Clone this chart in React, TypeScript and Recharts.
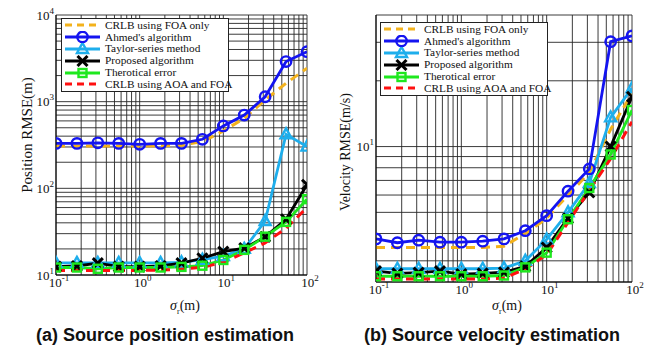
import React from 'react';
import { LineChart, Line, XAxis, YAxis, CartesianGrid, Legend } from 'recharts';

// sigma_r (m), 13 points, 4 per decade
const sigma = [0.1, 0.178, 0.316, 0.562, 1, 1.78, 3.16, 5.62, 10, 17.8, 31.6, 56.2, 100];

// (a) position RMSE (m)
const posCrlbFoa = [308, 308, 308, 308, 308, 310, 315, 346, 459, 643, 1047, 1630, 2430];
const posAhmed = [330, 330, 335, 330, 322, 330, 330, 368, 525, 700, 1140, 2900, 3770];
const posTaylor = [13.8, 13.8, 13.8, 13.8, 13.8, 13.8, 14, 15, 16.5, 20, 42, 420, 303];
const posProposed = [12.5, 12.7, 13.7, 12.5, 12.5, 12.7, 13.7, 15.6, 18.6, 20.4, 27.5, 44, 110];
const posTheory = [12.2, 12.2, 11.8, 12.2, 12.2, 12.2, 12.4, 12.8, 14.9, 19.5, 27.7, 41, 75];
const posCrlbAoa = [11.3, 11.3, 11.3, 11.3, 11.3, 11.4, 11.7, 12.3, 14, 18, 23.5, 34.6, 60];

// (b) velocity RMSE (m/s)
const velCrlbFoa = [3.45, 3.45, 3.45, 3.45, 3.45, 3.45, 3.5, 4.0, 4.7, 6.0, 7.6, 12, 17.5];
const velAhmed = [3.78, 3.63, 3.73, 3.65, 3.65, 3.69, 3.78, 4.12, 4.83, 6.25, 7.9, 30.2, 32.1];
const velTaylor = [2.76, 2.76, 2.76, 2.76, 2.76, 2.76, 2.78, 3.0, 3.76, 5.0, 6.8, 13.6, 18.5];
const velProposed = [2.69, 2.63, 2.65, 2.69, 2.61, 2.63, 2.66, 2.83, 3.45, 4.7, 6.16, 10, 16.9];
const velTheory = [2.55, 2.55, 2.55, 2.55, 2.55, 2.55, 2.57, 2.8, 3.27, 4.65, 6.46, 9.2, 14.7];
const velCrlbAoa = [2.48, 2.48, 2.48, 2.48, 2.48, 2.48, 2.5, 2.75, 3.2, 4.5, 6.3, 8.8, 13];

// grid ticks (log decades with minor lines)
const xTicks = [
  0.1, 0.2, 0.3, 0.4, 0.5, 0.6, 0.7, 0.8, 0.9,
  1, 2, 3, 4, 5, 6, 7, 8, 9,
  10, 20, 30, 40, 50, 60, 70, 80, 90, 100,
];
const posTicks = [
  10, 20, 30, 40, 50, 60, 70, 80, 90,
  100, 200, 300, 400, 500, 600, 700, 800, 900,
  1000, 2000, 3000, 4000, 5000, 6000, 7000, 8000, 9000, 10000,
];
const velTicks = [3, 4, 5, 6, 7, 8, 9, 10, 20, 30, 40];

const seriesNames = [
  'CRLB using FOA only',
  "Ahmed's algorithm",
  'Taylor-series method',
  'Proposed algorithm',
  'Therotical error',
  'CRLB using AOA and FOA',
];

const ORANGE = '#F3B21C';
const BLUE = '#1414F0';
const CYAN = '#1EAEEC';
const BLACK = '#000000';
const GREEN = '#1EE81E';
const RED = '#FF1010';
const SERIF = '"Liberation Serif", "Times New Roman", serif';

const build = (cols: number[][]) =>
  sigma.map((s, i) => ({
    s,
    crlbFoa: cols[0][i],
    ahmed: cols[1][i],
    taylor: cols[2][i],
    proposed: cols[3][i],
    theory: cols[4][i],
    crlbAoa: cols[5][i],
  }));

const posData = build([posCrlbFoa, posAhmed, posTaylor, posProposed, posTheory, posCrlbAoa]);
const velData = build([velCrlbFoa, velAhmed, velTaylor, velProposed, velTheory, velCrlbAoa]);

const isDecade = (v: number) => Math.abs(Math.log10(v) - Math.round(Math.log10(v))) < 1e-6;

// marker shapes
const Circle = ({ cx, cy, c }: any) => (
  <circle cx={cx} cy={cy} r={5.2} fill="none" stroke={c} strokeWidth={2.4} />
);
const Tri = ({ cx, cy, c }: any) => (
  <polygon
    points={`${cx},${cy - 6} ${cx - 5.5},${cy + 4} ${cx + 5.5},${cy + 4}`}
    fill="none"
    stroke={c}
    strokeWidth={2.4}
  />
);
const Cross = ({ cx, cy, c }: any) => (
  <g stroke={c} strokeWidth={3}>
    <line x1={cx - 5} y1={cy - 5} x2={cx + 5} y2={cy + 5} />
    <line x1={cx - 5} y1={cy + 5} x2={cx + 5} y2={cy - 5} />
  </g>
);
const Square = ({ cx, cy, c }: any) => (
  <rect x={cx - 4} y={cy - 4} width={8} height={8} fill="none" stroke={c} strokeWidth={2.4} />
);

const markerDot = (Shape: any, c: string) => (p: any) =>
  <Shape key={`d-${p.index}`} cx={p.cx} cy={p.cy} c={c} />;

const XTick = ({ x, y, payload }: any) => {
  const v = payload.value;
  if (!isDecade(v)) return <g />;
  const e = Math.round(Math.log10(v));
  return (
    <text x={x + 3} y={y + 12} textAnchor="middle" fontFamily={SERIF} fontSize={13} fill="#111">
      10<tspan dy={-6} fontSize={9}>{e}</tspan>
    </text>
  );
};

const YTick = ({ x, y, payload }: any) => {
  const v = payload.value;
  if (!isDecade(v)) return <g />;
  const e = Math.round(Math.log10(v));
  return (
    <text x={x - 2} y={y + 4.5} textAnchor="end" fontFamily={SERIF} fontSize={13} fill="#111">
      10<tspan dy={-6} fontSize={9}>{e}</tspan>
    </text>
  );
};

const legendItems = [
  { name: seriesNames[0], color: ORANGE, dash: '7 5', shape: null },
  { name: seriesNames[1], color: BLUE, dash: undefined, shape: Circle },
  { name: seriesNames[2], color: CYAN, dash: undefined, shape: Tri },
  { name: seriesNames[3], color: BLACK, dash: undefined, shape: Cross },
  { name: seriesNames[4], color: GREEN, dash: undefined, shape: Square },
  { name: seriesNames[5], color: RED, dash: '7 5', shape: null },
];

const LegendBox = () => (
  <div
    style={{
      width: 166,
      border: '1px solid #222',
      background: '#fff',
      padding: '0.5px 0',
      fontFamily: SERIF,
      fontSize: 11.3,
      color: '#111',
    }}
  >
    {legendItems.map((it) => {
      const S: any = it.shape;
      return (
        <div
          key={it.name}
          style={{ display: 'flex', alignItems: 'center', height: 11.8, lineHeight: '11px', overflow: 'visible' }}
        >
          <svg width={42} height={12} style={{ flex: 'none', marginLeft: 1 }}>
            <line x1={2} y1={6} x2={37} y2={6} stroke={it.color} strokeWidth={3} strokeDasharray={it.dash} />
            {S && <S cx={19.5} cy={6} c={it.color} />}
          </svg>
          <span style={{ whiteSpace: 'nowrap' }}>{it.name}</span>
        </div>
      );
    })}
  </div>
);

const Panel = ({
  data,
  ticks,
  domain,
  width,
  height,
  yWidth,
  xHeight,
  right,
  legendLeft,
  legendTop,
}: any) => (
  <LineChart width={width} height={height} data={data} margin={{ top: 15, right, bottom: 0, left: 0 }}>
    <CartesianGrid stroke="#262626" strokeWidth={0.9} />
    <XAxis
      dataKey="s"
      type="number"
      scale="log"
      domain={[0.1, 100]}
      ticks={xTicks}
      interval={0}
      allowDataOverflow
      height={xHeight}
      tick={<XTick />}
      tickLine={false}
      tickSize={0}
      tickMargin={0}
      axisLine={{ stroke: '#000', strokeWidth: 1 }}
    />
    <XAxis
      xAxisId="top"
      orientation="top"
      dataKey="s"
      type="number"
      scale="log"
      domain={[0.1, 100]}
      allowDataOverflow
      height={0}
      tick={false}
      tickLine={false}
      axisLine={{ stroke: '#000', strokeWidth: 1 }}
    />
    <YAxis
      type="number"
      scale="log"
      domain={domain}
      ticks={ticks}
      interval={0}
      allowDataOverflow
      width={yWidth}
      tick={<YTick />}
      tickLine={false}
      tickSize={0}
      tickMargin={0}
      axisLine={{ stroke: '#000', strokeWidth: 1 }}
    />
    <YAxis
      yAxisId="right"
      orientation="right"
      type="number"
      scale="log"
      domain={domain}
      allowDataOverflow
      width={0}
      tick={false}
      tickLine={false}
      axisLine={{ stroke: '#000', strokeWidth: 1 }}
    />
    <Line
      dataKey="crlbFoa"
      name={seriesNames[0]}
      stroke={ORANGE}
      strokeWidth={3}
      strokeDasharray="9 6"
      dot={false}
      isAnimationActive={false}
    />
    <Line
      dataKey="ahmed"
      name={seriesNames[1]}
      stroke={BLUE}
      strokeWidth={2.8}
      dot={markerDot(Circle, BLUE)}
      isAnimationActive={false}
    />
    <Line
      dataKey="taylor"
      name={seriesNames[2]}
      stroke={CYAN}
      strokeWidth={2.8}
      dot={markerDot(Tri, CYAN)}
      isAnimationActive={false}
    />
    <Line
      dataKey="proposed"
      name={seriesNames[3]}
      stroke={BLACK}
      strokeWidth={2.8}
      dot={markerDot(Cross, BLACK)}
      isAnimationActive={false}
    />
    <Line
      dataKey="theory"
      name={seriesNames[4]}
      stroke={GREEN}
      strokeWidth={2.8}
      dot={markerDot(Square, GREEN)}
      isAnimationActive={false}
    />
    <Line
      dataKey="crlbAoa"
      name={seriesNames[5]}
      stroke={RED}
      strokeWidth={3}
      strokeDasharray="9 6"
      dot={false}
      isAnimationActive={false}
    />
    <Legend
      layout="horizontal"
      verticalAlign="middle"
      align="center"
      content={() => <LegendBox />}
      wrapperStyle={{ left: legendLeft, top: legendTop, width: 'auto' }}
    />
  </LineChart>
);

const SigmaLabel = ({ left }: { left: number }) => (
  <div
    style={{
      position: 'absolute',
      left,
      top: 298,
      width: 60,
      textAlign: 'center',
      fontFamily: SERIF,
      fontSize: 14,
      color: '#111',
    }}
  >
    <i>σ</i>
    <sub style={{ fontSize: 8 }}>r</sub>(m)
  </div>
);

const YLabel = ({ text, cx, cy, size }: any) => (
  <div
    style={{
      position: 'absolute',
      left: cx - 100,
      top: cy - 10,
      width: 200,
      height: 20,
      lineHeight: '20px',
      textAlign: 'center',
      transform: 'rotate(-90deg)',
      fontFamily: SERIF,
      fontSize: size,
      color: '#111',
    }}
  >
    {text}
  </div>
);

const Title = ({ text, cx }: any) => (
  <div
    style={{
      position: 'absolute',
      left: cx - 160,
      top: 325,
      width: 320,
      textAlign: 'center',
      fontFamily: '"Liberation Sans", Arial, sans-serif',
      fontWeight: 'bold',
      fontSize: 18,
      color: '#111',
    }}
  >
    {text}
  </div>
);

export default function App() {
  return (
    <div style={{ position: 'absolute', left: 0, top: 0, width: 656, height: 350, background: '#fff' }}>
      <div style={{ position: 'absolute', left: 0, top: 0 }}>
        <Panel
          data={posData}
          ticks={posTicks}
          domain={[10, 10000]}
          width={320}
          height={300}
          yWidth={56}
          xHeight={25}
          right={13}
          legendLeft={61}
          legendTop={18}
        />
      </div>
      <div style={{ position: 'absolute', left: 326, top: 0 }}>
        <Panel
          data={velData}
          ticks={velTicks}
          domain={[2.4, 40]}
          width={320}
          height={310}
          yWidth={50}
          xHeight={28}
          right={14}
          legendLeft={54}
          legendTop={22}
        />
      </div>
      <YLabel text="Position RMSE(m)" cx={27} cy={135} size={15} />
      <YLabel text="Velocity RMSE(m/s)" cx={346} cy={152} size={14} />
      <SigmaLabel left={155} />
      <SigmaLabel left={477} />
      <Title text="(a) Source position estimation" cx={165} />
      <Title text="(b) Source velocity estimation" cx={492} />
    </div>
  );
}
